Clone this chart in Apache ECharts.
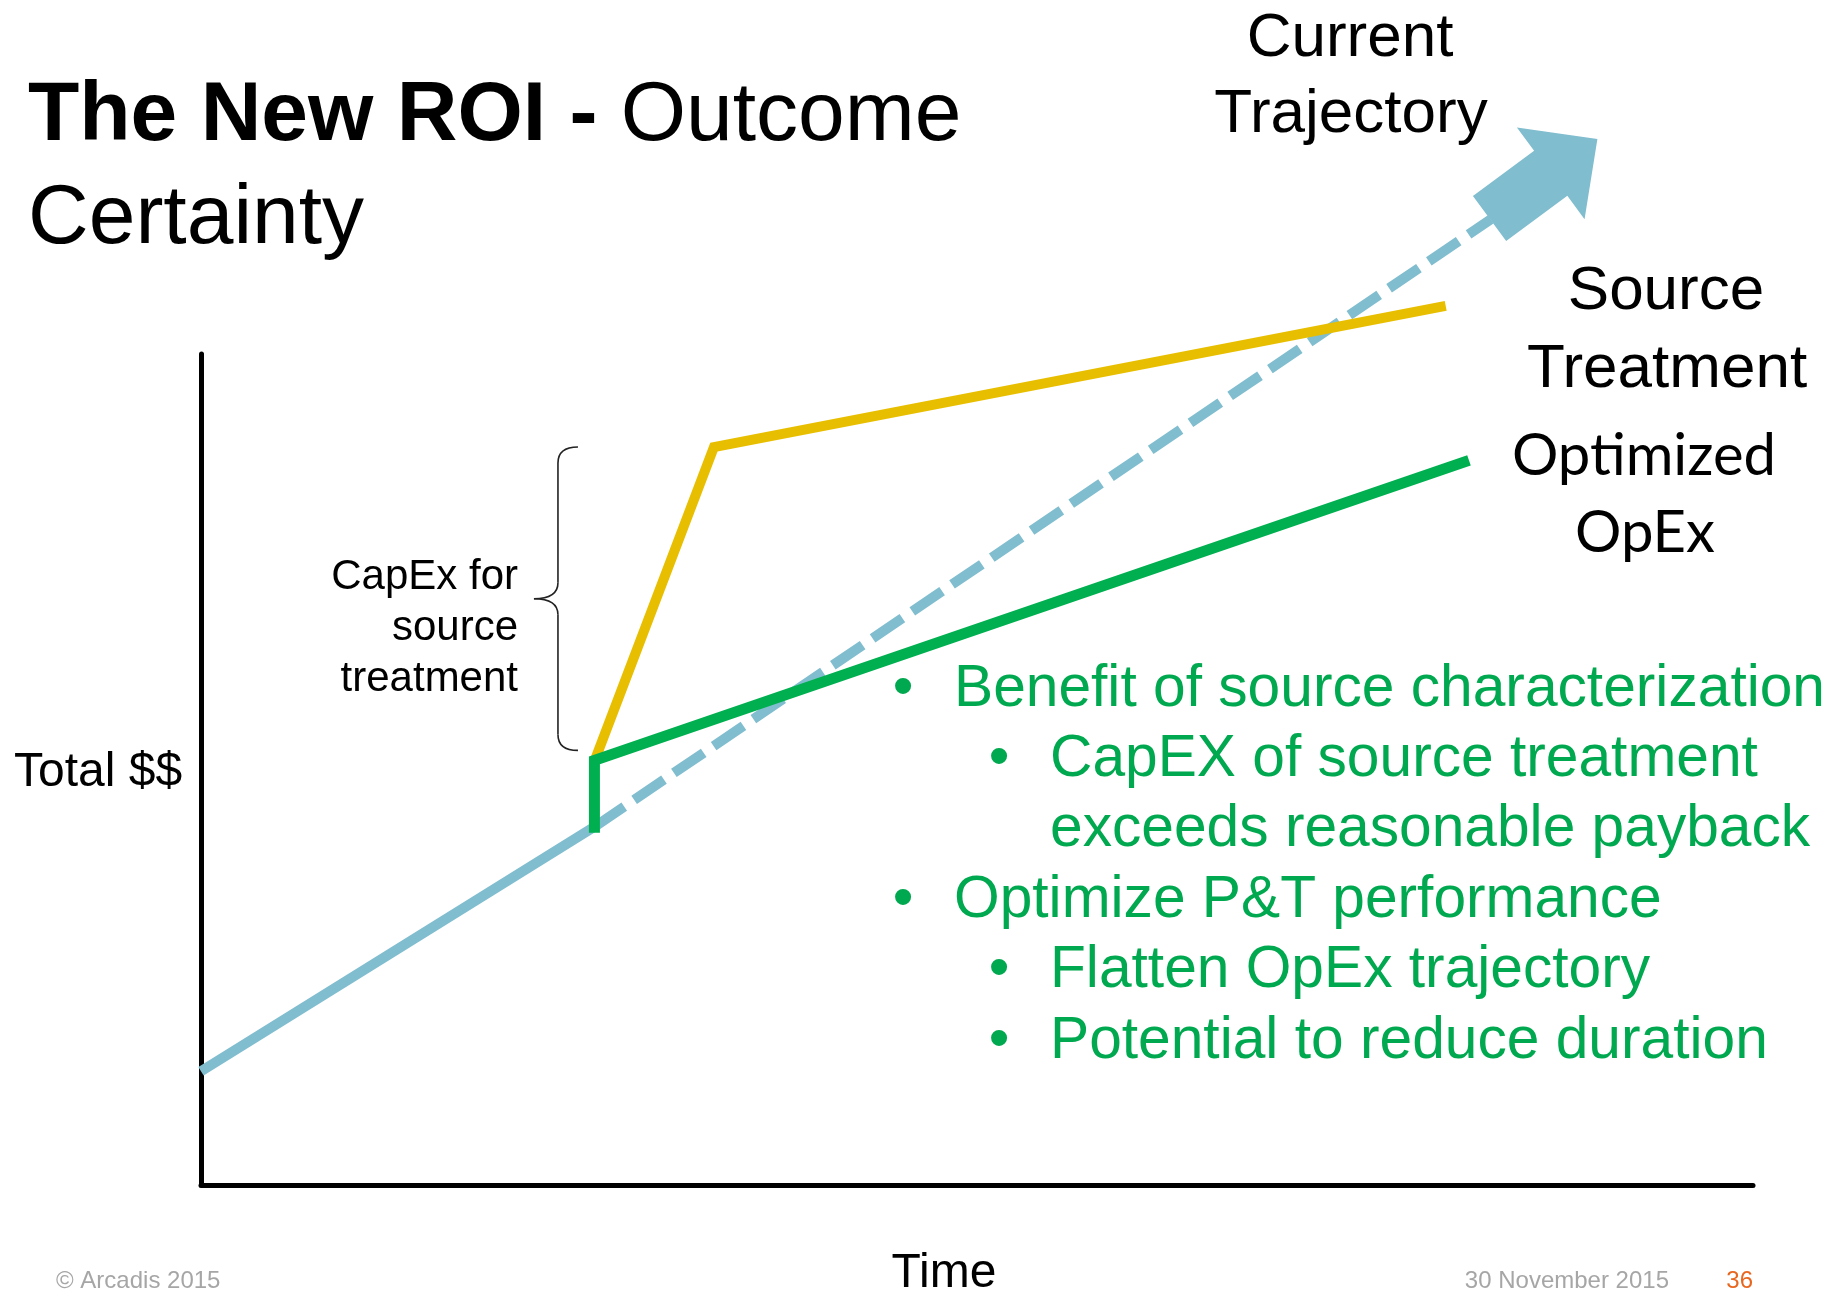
<!DOCTYPE html>
<html>
<head>
<meta charset="utf-8">
<title>The New ROI - Outcome Certainty</title>
<script src="https://cdn.jsdelivr.net/npm/echarts@6/dist/echarts.min.js"></script>
<style>
  html, body { margin: 0; padding: 0; background: #fff; }
  #chart { width: 1836px; height: 1291px; }
</style>
</head>
<body>
<div id="chart"></div>
<script>
// axis domain, arbitrary units (time vs total $$)
const xRange = [0, 100];
const yRange = [0, 100];

// current trajectory: solid up to the decision point, dashed afterwards
const pastX = [0, 25.35];
const pastY = [13.7, 43.1];
const trendX = [25.35, 83.1];
const trendY = [43.1, 116.2];
const arrowAt = [86.5, 121.1];

// source treatment: capex jump, then flatter opex
const sourceX = [25.35, 33.05, 80.2];
const sourceY = [51.0, 88.8, 105.8];

// optimized opex
const optX = [25.35, 25.35, 81.7];
const optY = [42.4, 51.1, 87.2];

// capex brace: x, low, high
const braceX = [23.0];
const braceLow = [52.3];
const braceHigh = [88.8];

const bullets = [
  { level: 1, text: 'Benefit of source characterization', bullet: true },
  { level: 2, text: 'CapEX of source treatment', bullet: true },
  { level: 2, text: 'exceeds reasonable payback', bullet: false },
  { level: 1, text: 'Optimize P&T performance', bullet: true },
  { level: 2, text: 'Flatten OpEx trajectory', bullet: true },
  { level: 2, text: 'Potential to reduce duration', bullet: true }
];

const BLUE = '#80bdcf';
const GOLD = '#e8bf00';
const GREEN = '#00b050';
const TEXT_GREEN = '#00a84f';

const pairs = (xs, ys) => xs.map((x, i) => [x, ys[i]]);

// text placed by its baseline
function txt(text, x, base, size, o = {}) {
  const lato = o.family === 'Lato';
  const k = lato ? 0.35 : 0.30;
  const align = o.align || 'left';
  const style = {
    text: text,
    fill: o.color || '#000',
    font: (o.weight || 'normal') + ' ' + size + 'px ' + (lato ? 'Lato' : '"Liberation Sans", Arial, sans-serif'),
    textAlign: align,
    align: align,
    textVerticalAlign: 'middle',
    verticalAlign: 'middle'
  };
  if (o.rich) style.rich = o.rich;
  return { type: 'text', x: x, y: base - k * size, silent: true, style: style };
}

const graphics = [
  txt('{b|The New ROI -} Outcome', 28, 142, 84, {
    rich: { b: { fontWeight: 'bold', fontSize: 84, fontFamily: '"Liberation Sans", Arial, sans-serif', fill: '#000' } }
  }),
  txt('Certainty', 28, 245, 84),
  txt('Current', 1350, 58, 62, { align: 'center' }),
  txt('Trajectory', 1351, 134, 62, { align: 'center' }),
  txt('Source', 1666, 311, 62, { align: 'center' }),
  txt('Treatment', 1667, 389, 62, { align: 'center' }),
  txt('Optimized', 1644, 477, 58, { align: 'center', family: 'Lato' }),
  txt('OpEx', 1645, 554, 58, { align: 'center', family: 'Lato' }),
  txt('CapEx for', 518, 590, 42, { align: 'right' }),
  txt('source', 518, 641, 42, { align: 'right' }),
  txt('treatment', 518, 692, 42, { align: 'right' }),
  txt('Total $$', 14, 787, 48),
  txt('Time', 944, 1288, 48, { align: 'center' }),
  txt('© Arcadis 2015', 56, 1289, 24, { color: '#a6a6a6' }),
  txt('30 November 2015', 1669, 1289, 24, { color: '#a6a6a6', align: 'right' }),
  txt('36', 1753, 1289, 24, { color: '#e8661e', align: 'right' })
];

const bulletBase = 707, bulletStep = 70.4;
bullets.forEach((b, i) => {
  const base = bulletBase + i * bulletStep;
  const bx = b.level === 1 ? 903 : 999;
  const tx = b.level === 1 ? 954 : 1050;
  if (b.bullet) graphics.push(txt('•', bx, base, 59, { color: TEXT_GREEN, align: 'center' }));
  graphics.push(txt(b.text, tx, base, 58.7, { color: TEXT_GREEN }));
});

const chart = echarts.init(document.getElementById('chart'), null, { renderer: 'canvas' });

const axisCommon = {
  type: 'value',
  axisLine: { show: true, onZero: false, lineStyle: { color: '#000', width: 5 } },
  axisTick: { show: false },
  axisLabel: { show: false },
  splitLine: { show: false }
};

const option = {
  animation: false,
  backgroundColor: '#fff',
  grid: { left: 201, right: 83, top: 354, bottom: 106 },
  xAxis: Object.assign({ min: xRange[0], max: xRange[1] }, axisCommon),
  yAxis: Object.assign({ min: yRange[0], max: yRange[1] }, axisCommon),
  graphic: graphics,
  series: [
    {
      name: 'Current Trajectory',
      type: 'line',
      data: pairs(pastX, pastY),
      symbol: 'none',
      clip: false,
      lineStyle: { color: BLUE, width: 10, cap: 'butt' }
    },
    {
      name: 'Current Trajectory (projected)',
      type: 'line',
      data: pairs(trendX, trendY),
      symbol: 'none',
      clip: false,
      lineStyle: { color: BLUE, width: 10, type: [36, 12], cap: 'butt' }
    },
    {
      name: 'Trajectory arrow',
      type: 'scatter',
      data: [arrowAt],
      clip: false,
      symbol: 'path://M0,-28 L76,-28 L76,-57 L134,0 L76,57 L76,28 L0,28 Z',
      symbolSize: [134, 114],
      symbolRotate: 36.4,
      itemStyle: { color: BLUE, opacity: 1 }
    },
    {
      name: 'Source Treatment',
      type: 'line',
      data: pairs(sourceX, sourceY),
      symbol: 'none',
      clip: false,
      lineStyle: { color: GOLD, width: 10, join: 'miter', cap: 'butt' }
    },
    {
      name: 'Optimized OpEx',
      type: 'line',
      data: pairs(optX, optY),
      symbol: 'none',
      clip: false,
      lineStyle: { color: GREEN, width: 11, join: 'miter', cap: 'butt' }
    },
    {
      name: 'CapEx brace',
      type: 'custom',
      data: braceX.map((x, i) => [x, braceLow[i], braceHigh[i]]),
      encode: { x: 0, y: [1, 2] },
      renderItem: function (params, api) {
        const top = api.coord([api.value(0), api.value(2)]);
        const bot = api.coord([api.value(0), api.value(1)]);
        const x = top[0], y1 = top[1], y2 = bot[1], mid = (y1 + y2) / 2;
        const tip = 20, cusp = 24, r = 16;
        const st = { stroke: '#222', lineWidth: 1.6, fill: 'none' };
        return {
          type: 'group',
          children: [
            { type: 'bezierCurve', shape: { x1: x + tip, y1: y1, cpx1: x, cpy1: y1, x2: x, y2: y1 + r }, style: st },
            { type: 'line', shape: { x1: x, y1: y1 + r, x2: x, y2: mid - r }, style: st },
            { type: 'bezierCurve', shape: { x1: x, y1: mid - r, cpx1: x, cpy1: mid, x2: x - cusp, y2: mid }, style: st },
            { type: 'bezierCurve', shape: { x1: x - cusp, y1: mid, cpx1: x, cpy1: mid, x2: x, y2: mid + r }, style: st },
            { type: 'line', shape: { x1: x, y1: mid + r, x2: x, y2: y2 - r }, style: st },
            { type: 'bezierCurve', shape: { x1: x, y1: y2 - r, cpx1: x, cpy1: y2, x2: x + tip, y2: y2 }, style: st }
          ]
        };
      }
    }
  ]
};

chart.setOption(option);
</script>
</body>
</html>
